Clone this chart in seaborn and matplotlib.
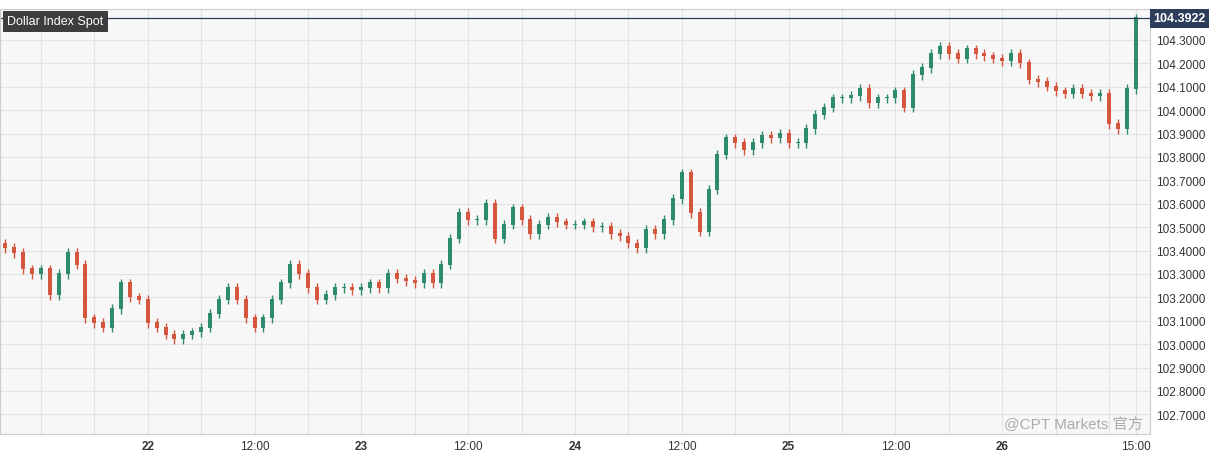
import numpy as np
import matplotlib
matplotlib.use("Agg")
import matplotlib.pyplot as plt
import seaborn as sns

closes = [103.41,103.39,103.32,103.30,103.32,103.21,103.30,103.39,103.34,103.11,
103.09,103.07,103.15,103.26,103.20,103.19,103.09,103.07,103.04,103.02,
103.04,103.05,103.07,103.13,103.19,103.24,103.19,103.11,103.07,103.11,
103.19,103.26,103.34,103.30,103.24,103.19,103.21,103.24,103.24,103.23,
103.24,103.26,103.24,103.30,103.28,103.27,103.26,103.30,103.26,103.34,
103.45,103.56,103.53,103.53,103.60,103.45,103.51,103.58,103.53,103.47,
103.51,103.54,103.52,103.51,103.51,103.52,103.50,103.50,103.47,103.46,
103.43,103.41,103.49,103.47,103.53,103.62,103.73,103.56,103.48,103.66,
103.81,103.88,103.86,103.83,103.86,103.89,103.88,103.90,103.86,103.86,
103.92,103.98,104.01,104.05,104.05,104.06,104.09,104.03,104.05,104.05,
104.08,104.01,104.15,104.18,104.24,104.27,104.24,104.22,104.26,104.24,
104.23,104.22,104.21,104.24,104.20,104.13,104.12,104.10,104.08,104.07,
104.09,104.07,104.06,104.07,103.94,103.92,104.09,104.11]
closes[-1] = 104.3922
first_open = 103.43
start_hour = -16
last_price = 104.3922
ytick_vals = [round(102.7 + 0.1*i, 1) for i in range(17)]
day_labels = ["22", "23", "24", "25", "26"]

sns.set_theme(style="whitegrid")
plt.rcParams['font.family'] = ['Liberation Sans', 'Noto Sans CJK SC', 'DejaVu Sans']

closes = np.array(closes)
opens = np.concatenate([[first_open], closes[:-1]])
hours = np.arange(start_hour, start_hour + len(closes))
up = closes >= opens
wick_pad = 0.02
highs = np.maximum(opens, closes) + wick_pad
lows = np.minimum(opens, closes) - wick_pad
cols = np.where(up, "#2e8b6f", "#d6553f")

fig = plt.figure(figsize=(12.29, 4.6), dpi=100)
ax = fig.add_axes([0.0, 25/460, 1150/1229, 1 - 35/460])
ax.set_facecolor("#f7f7f7")
ax.vlines(hours, lows, highs, colors=cols, linewidth=1)
ax.bar(hours, np.abs(closes - opens) + 0.004, bottom=np.minimum(opens, closes),
       width=0.45, color=cols, linewidth=0)
ax.set_xlim(-16.6, 112.6)
ax.set_ylim(102.616, 104.432)
ax.yaxis.tick_right()
ax.set_yticks(ytick_vals)
ax.set_yticklabels([f"{v:.4f}" for v in ytick_vals], fontsize=8.5, color="#333333")
xt = [0, 12, 24, 36, 48, 60, 72, 84, 96, 111]
xl = ["22", "12:00", "23", "12:00", "24", "12:00", "25", "12:00", "26", "15:00"]
ax.set_xticks(xt)
ax.set_xticklabels(xl, fontsize=8.5, color="#333333")
for lab in ax.get_xticklabels():
    if lab.get_text() in day_labels:
        lab.set_fontweight("bold")
ax.set_xticks(np.arange(-12, 113, 6), minor=True)
ax.grid(True, which="both", color="#e3e3e3", linewidth=0.8)
ax.tick_params(axis="both", length=0, pad=4)
for s in ax.spines.values():
    s.set_color("#cccccc")
    s.set_linewidth(0.8)
ax.axhline(last_price, color="#2c3e5c", linewidth=0.9)
ax.text(1.003, last_price, f"{last_price:.4f}", transform=ax.get_yaxis_transform(),
        va="center", ha="left", color="white", fontsize=9, fontweight="bold",
        bbox=dict(boxstyle="square,pad=0.3", fc="#2c3e5c", ec="none"))
ax.text(0.006, 0.985, "Dollar Index Spot", transform=ax.transAxes, va="top", ha="left",
        color="white", fontsize=9, bbox=dict(boxstyle="square,pad=0.35", fc="#3d3d3d", ec="none"))
fig.text(0.93, 0.06, "@CPT Markets 官方", ha="right", va="bottom", fontsize=11,
         color="#999999", alpha=0.8)
fig.savefig("out.png", dpi=100)
